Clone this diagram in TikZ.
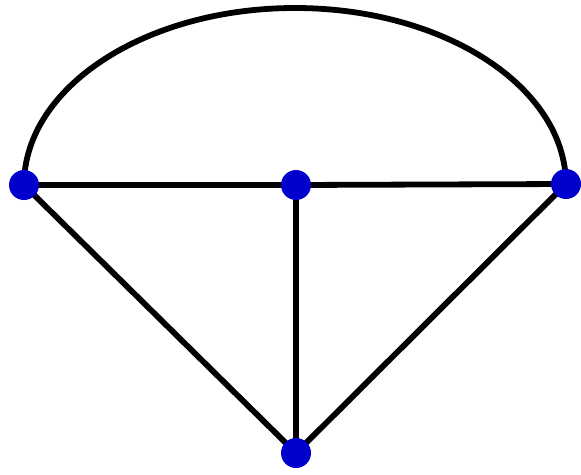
\documentclass[tikz,border=0pt]{standalone}
\definecolor{nodeblue}{RGB}{0,0,204}
\begin{document}
\begin{tikzpicture}[x=1pt,y=-1pt,
  vtx/.style={circle,fill=nodeblue,inner sep=0pt,minimum size=30pt},
  edge/.style={line width=5.8pt,black}]
\useasboundingbox (0,0) rectangle (581,474);
\coordinate (L) at (24,185);
\coordinate (C) at (296,185);
\coordinate (R) at (566,184);
\coordinate (B) at (296,453);
\draw[edge] (L) arc[start angle=180,end angle=0,x radius=271,y radius=-177];
\draw[edge] (L) -- (C) -- (R);
\draw[edge] (C) -- (B);
\draw[edge] (L) -- (B) -- (R);
\node[vtx] (l) at (L) {};
\node[vtx] (c) at (C) {};
\node[vtx] (r) at (R) {};
\node[vtx] (b) at (B) {};
\end{tikzpicture}
\end{document}
